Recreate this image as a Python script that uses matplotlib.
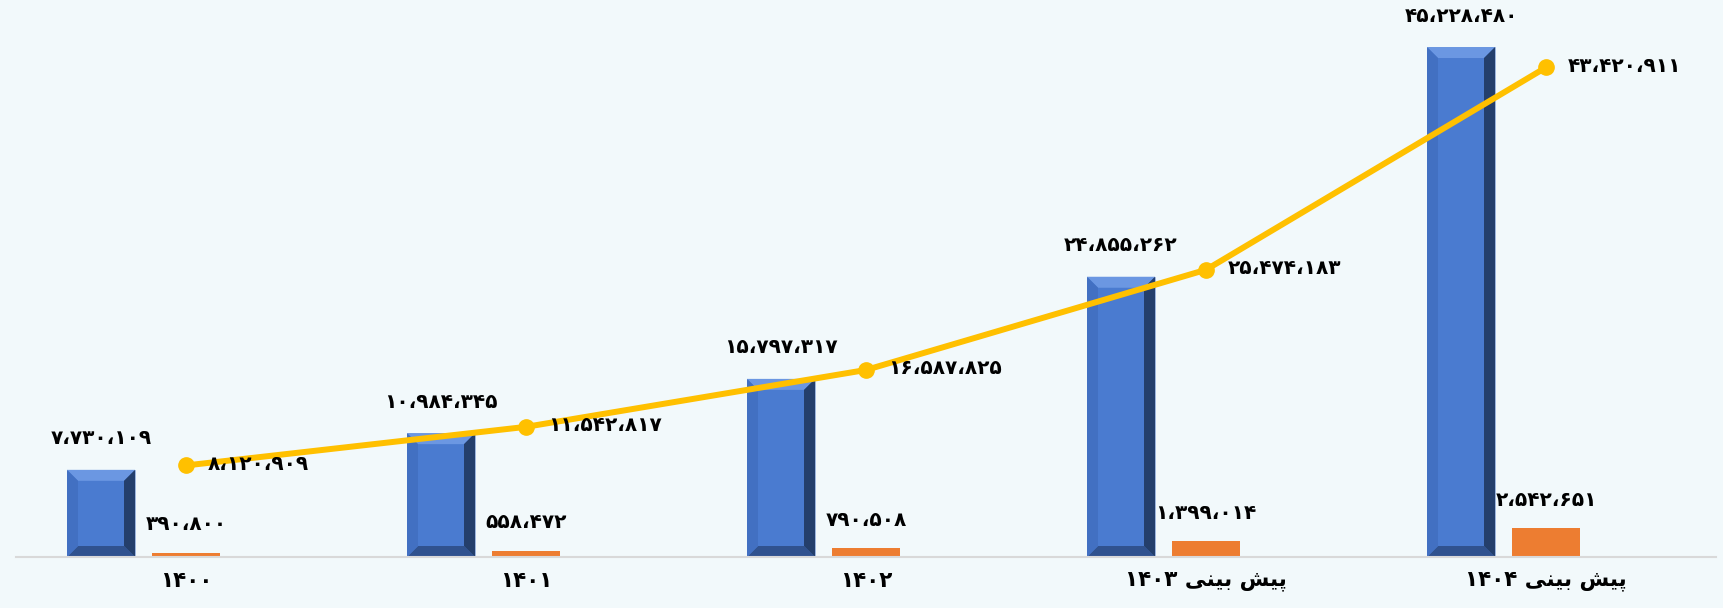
import numpy as np
import matplotlib
matplotlib.use('Agg')
from matplotlib import pyplot as plt
from matplotlib.patches import Polygon

categories = ['۱۴۰۰', '۱۴۰۱', '۱۴۰۲', 'پیش بینی ۱۴۰۳', 'پیش بینی ۱۴۰۴']
blue_values = [7730109, 10984345, 15797317, 24855262, 45228480]
orange_values = [390800, 558472, 790508, 1399014, 2542651]
line_values = [8120909, 11542817, 16587825, 25474183, 43420911]

BG = '#f2f9fb'
BLUE = '#4a7bd0'
ORANGE = '#ed7d31'
GOLD = '#ffc000'
FONT = ['DejaVu Sans']

PERSIAN_DIGITS = str.maketrans('0123456789,', '۰۱۲۳۴۵۶۷۸۹،')

# presentation forms: isolated, final, initial, medial
FORMS = {
    'پ': ('\ufb56', '\ufb57', '\ufb58', '\ufb59'),
    'ی': ('\ufeef', '\ufef0', '\ufef3', '\ufef4'),
    'ش': ('\ufeb5', '\ufeb6', '\ufeb7', '\ufeb8'),
    'ب': ('\ufe8f', '\ufe90', '\ufe91', '\ufe92'),
    'ن': ('\ufee5', '\ufee6', '\ufee7', '\ufee8'),
}


def shape_word(word):
    if not all(c in FORMS for c in word):
        return word
    n = len(word)
    out = []
    for i, c in enumerate(word):
        if n == 1:
            out.append(FORMS[c][0])
        elif i == 0:
            out.append(FORMS[c][2])
        elif i == n - 1:
            out.append(FORMS[c][1])
        else:
            out.append(FORMS[c][3])
    return ''.join(reversed(out))


def rtl(text):
    return ' '.join(shape_word(w) for w in reversed(text.split(' ')))


def fa_number(v):
    return '{:,}'.format(v).translate(PERSIAN_DIGITS)


W, H = 1724, 608
fig = plt.figure(figsize=(W / 100, H / 100), dpi=100, facecolor=BG)
ax = fig.add_axes([16 / W, 51 / H, 1700 / W, 557 / H], facecolor=BG)

x = np.arange(len(categories))
width = 0.2
x_blue = x - 0.25
ax.set_xlim(-0.5, len(categories) - 0.5)
ax.set_ylim(0, 49.4e6)

bars = ax.bar(x_blue, blue_values, width, color=BLUE, edgecolor='#9fb6de',
              linewidth=0.6, zorder=2)
ax.bar(x, orange_values, width, color=ORANGE, zorder=2)

# bevel effect on the blue bars
px_x = (ax.get_xlim()[1] - ax.get_xlim()[0]) / 1700
px_y = (ax.get_ylim()[1] - ax.get_ylim()[0]) / 557
bx, by = 11 * px_x, 11 * px_y
for b in bars:
    x0, x1 = b.get_x(), b.get_x() + b.get_width()
    y0, y1 = 0, b.get_height()
    faces = [
        ([(x0, y1), (x1, y1), (x1 - bx, y1 - by), (x0 + bx, y1 - by)], '#6b97e2'),
        ([(x0, y0), (x1, y0), (x1 - bx, y0 + by), (x0 + bx, y0 + by)], '#30528f'),
        ([(x0, y0), (x0, y1), (x0 + bx, y1 - by), (x0 + bx, y0 + by)], '#4270c2'),
        ([(x1, y0), (x1, y1), (x1 - bx, y1 - by), (x1 - bx, y0 + by)], '#243f6c'),
    ]
    for pts, c in faces:
        ax.add_patch(Polygon(pts, closed=True, facecolor=c, edgecolor='none',
                             zorder=2.1))

ax.plot(x, line_values, color=GOLD, lw=4.3, marker='o', markersize=11,
        zorder=3, solid_capstyle='round')

lbl = dict(fontsize=14.5, fontweight='bold', family=FONT, color='black',
           textcoords='offset pixels', zorder=4)
for xi, v in zip(x_blue, blue_values):
    ax.annotate(fa_number(v), (xi, v), xytext=(0, 31), ha='center',
                va='center', **lbl)
for xi, v in zip(x, orange_values):
    ax.annotate(fa_number(v), (xi, v), xytext=(0, 28), ha='center',
                va='center', **lbl)
for xi, v in zip(x, line_values):
    ax.annotate(fa_number(v), (xi, v), xytext=(22, 1), ha='left',
                va='center', **lbl)

ax.set_xticks(x)
ax.set_xticklabels([rtl(c) for c in categories], fontsize=15.5,
                   fontweight='bold', family=FONT)
ax.tick_params(axis='x', length=0, pad=10)
ax.set_yticks([])
for s in ['left', 'right', 'top']:
    ax.spines[s].set_visible(False)
ax.spines['bottom'].set_color('#d9d9d9')
ax.spines['bottom'].set_linewidth(1.5)

fig.savefig('out.png', dpi=100, facecolor=BG)
